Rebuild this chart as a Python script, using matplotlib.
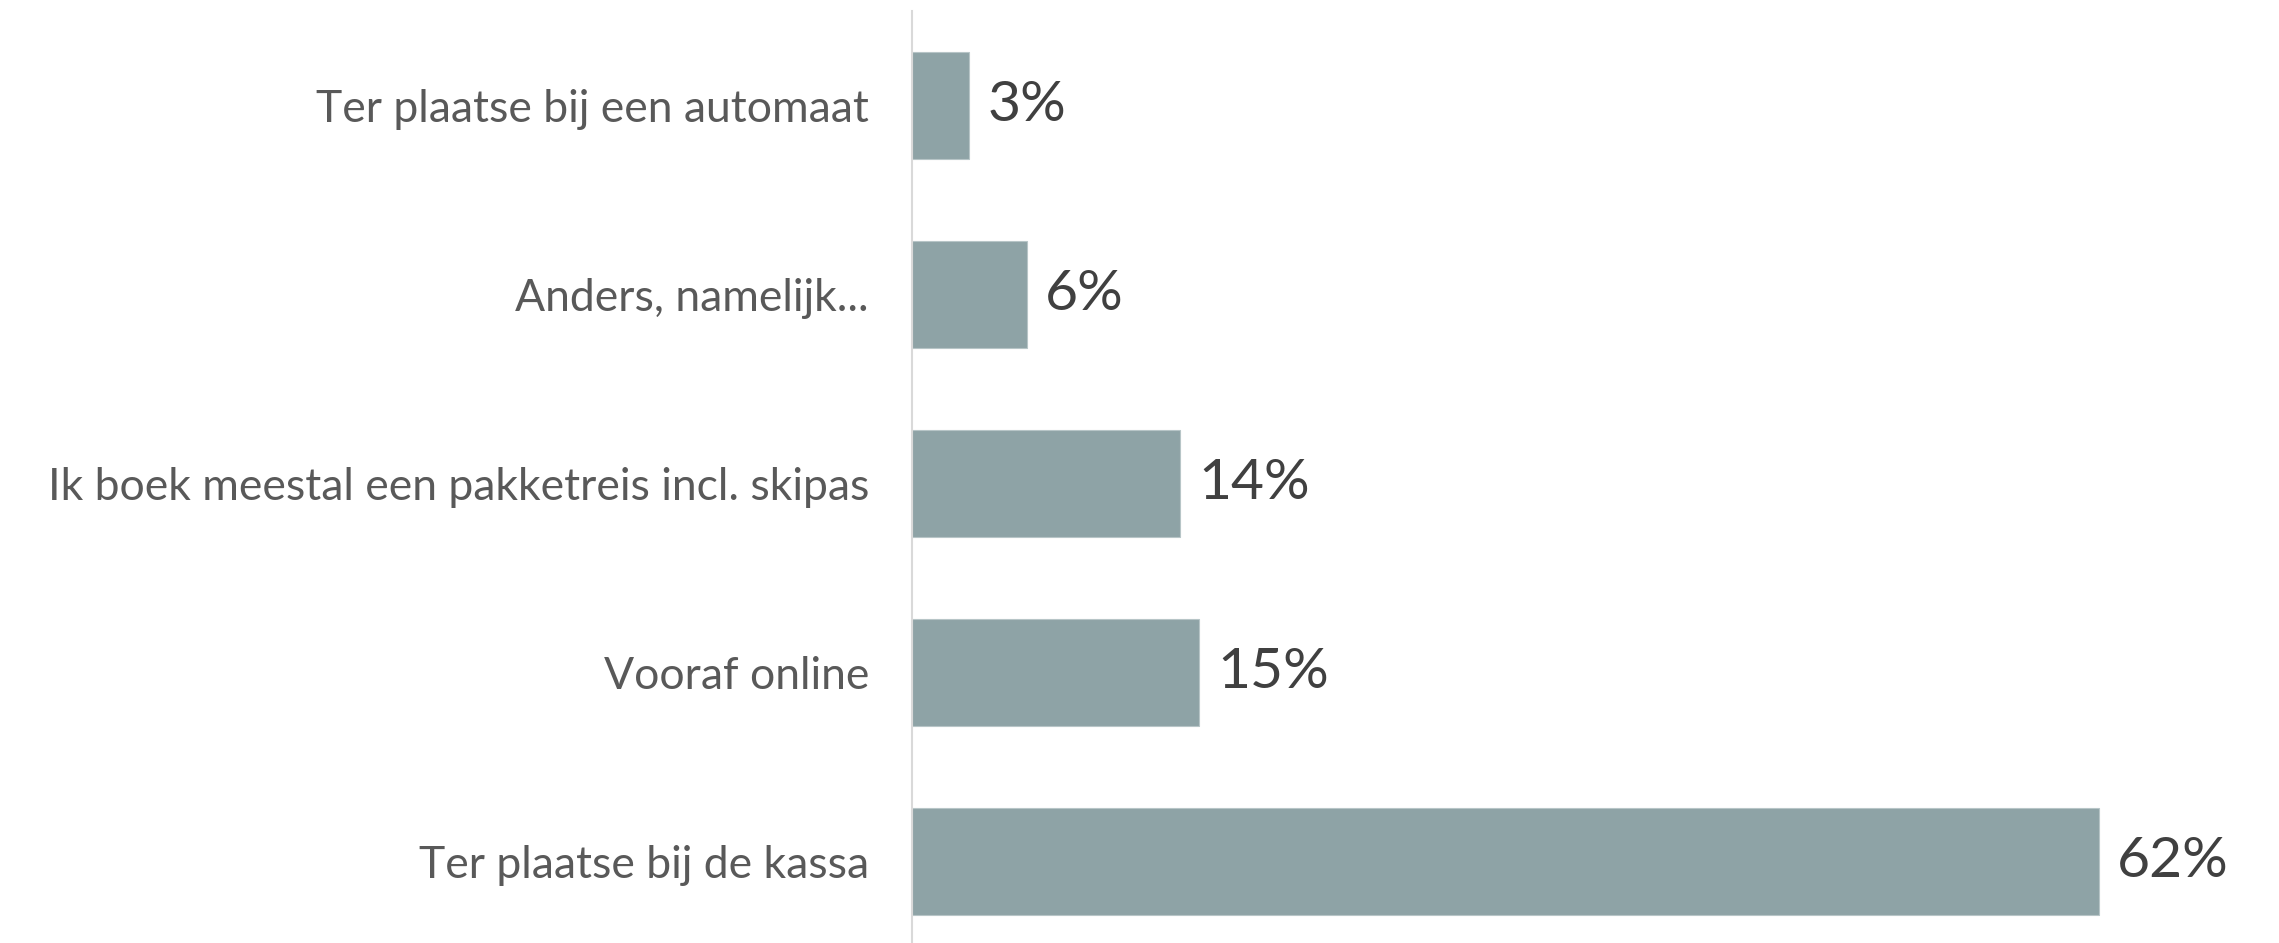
import matplotlib.pyplot as plt

# answer categories, top to bottom as in the chart
categories = [
    "Ter plaatse bij een automaat",
    "Anders, namelijk...",
    "Ik boek meestal een pakketreis incl. skipas",
    "Vooraf online",
    "Ter plaatse bij de kassa",
]
values = [3, 6, 14, 15, 62]
value_labels = ["3%", "6%", "14%", "15%", "62%"]

plt.rcParams['font.family'] = ['Lato', 'DejaVu Sans']

fig = plt.figure(figsize=(22.79, 9.43), dpi=100)
ax = fig.add_axes([0.4002, -0.0138, 0.5998, 1.0021])

ypos = list(range(len(categories)))
ax.barh(ypos, values, height=0.566, color='#8EA3A6', edgecolor='#B7C5C7', linewidth=0.8)

for y, v, lab in zip(ypos, values, value_labels):
    ax.text(v + 0.95, y, lab, va='center', ha='left', fontsize=41, color='#404040')

ax.set_yticks(ypos)
ax.set_yticklabels(categories, fontsize=32, color='#595959')
ax.tick_params(axis='y', length=0, pad=31)
ax.set_xticks([])
ax.set_ylim(len(categories) - 0.5, -0.5)
ax.set_xlim(0, 71.4)

for side in ['top', 'right', 'bottom']:
    ax.spines[side].set_visible(False)
ax.spines['left'].set_color('#D9D9D9')
ax.spines['left'].set_linewidth(1.5)

fig.savefig('out.png', dpi=100)
